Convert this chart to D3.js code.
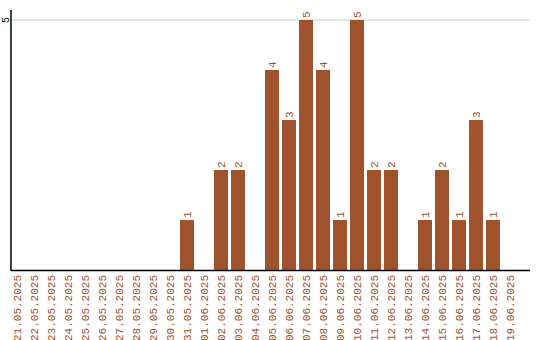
<!DOCTYPE html>
<html>
<head>
<meta charset="utf-8">
<script src="https://cdn.jsdelivr.net/npm/d3@7"></script>
<style>
  body { margin: 0; background: #fff; }
  text { font-family: "Liberation Mono", "DejaVu Sans Mono", monospace; }
</style>
</head>
<body>
<svg id="canvas"></svg>
<script>
let dates = ["21.05.2025","22.05.2025","23.05.2025","24.05.2025","25.05.2025","26.05.2025",
  "27.05.2025","28.05.2025","29.05.2025","30.05.2025","31.05.2025","01.06.2025","02.06.2025",
  "03.06.2025","04.06.2025","05.06.2025","06.06.2025","07.06.2025","08.06.2025","09.06.2025",
  "10.06.2025","11.06.2025","12.06.2025","13.06.2025","14.06.2025","15.06.2025","16.06.2025",
  "17.06.2025","18.06.2025","19.06.2025"]
let counts = [0,0,0,0,0,0,0,0,0,0,1,0,2,2,0,4,3,5,4,1,5,2,2,0,1,2,1,3,1,0]
let yTicks = [5]

const width = 540
const height = 340
const color = '#a0522d'

let canvas = d3.select('#canvas')
canvas.attr('width', width).attr('height', height)

let xScale = d3.scaleBand()
  .domain(dates)
  .range([10, 517])
  .paddingInner(3 / 17)
  .paddingOuter(0)

let yScale = d3.scaleLinear()
  .domain([0, 5.2])
  .range([270, 10])

// grid line
canvas.selectAll('.grid')
  .data(yTicks)
  .enter()
  .append('line')
  .attr('x1', 11).attr('x2', 530)
  .attr('y1', d => yScale(d)).attr('y2', d => yScale(d))
  .attr('stroke', '#ccc')

// bars
let data = dates.map((d, i) => ({ date: d, value: counts[i] }))

canvas.selectAll('rect')
  .data(data.filter(d => d.value > 0))
  .enter()
  .append('rect')
  .attr('x', d => xScale(d.date))
  .attr('width', xScale.bandwidth())
  .attr('y', d => yScale(d.value))
  .attr('height', d => yScale(0) - yScale(d.value))
  .attr('fill', color)

// value labels
canvas.selectAll('.val')
  .data(data.filter(d => d.value > 0))
  .enter()
  .append('text')
  .attr('transform', d => 'translate(' + (xScale(d.date) + xScale.bandwidth() / 2) + ',' + (yScale(d.value) - 2) + ') rotate(-90)')
  .attr('dy', '0.35em')
  .attr('font-size', 11)
  .attr('fill', color)
  .text(d => d.value)

// axes lines
canvas.append('line')
  .attr('x1', 11).attr('x2', 11)
  .attr('y1', 10).attr('y2', 271)
  .attr('stroke', '#000')
  .attr('stroke-width', 1.5)
canvas.append('line')
  .attr('x1', 11).attr('x2', 530)
  .attr('y1', 270.5).attr('y2', 270.5)
  .attr('stroke', '#000')
  .attr('stroke-width', 1.5)

// y tick labels
canvas.selectAll('.ytick')
  .data(yTicks)
  .enter()
  .append('text')
  .attr('transform', d => 'translate(5,' + yScale(d) + ') rotate(-90)')
  .attr('text-anchor', 'middle')
  .attr('dy', '0.35em')
  .attr('font-size', 10)
  .attr('fill', '#000')
  .text(d => d)

// x labels
canvas.selectAll('.xlab')
  .data(dates)
  .enter()
  .append('text')
  .attr('transform', d => 'translate(' + (xScale(d) + xScale.bandwidth() / 2) + ',275) rotate(-90)')
  .attr('text-anchor', 'end')
  .attr('dy', '0.35em')
  .attr('font-size', 11)
  .attr('fill', color)
  .text(d => d)
</script>
</body>
</html>
